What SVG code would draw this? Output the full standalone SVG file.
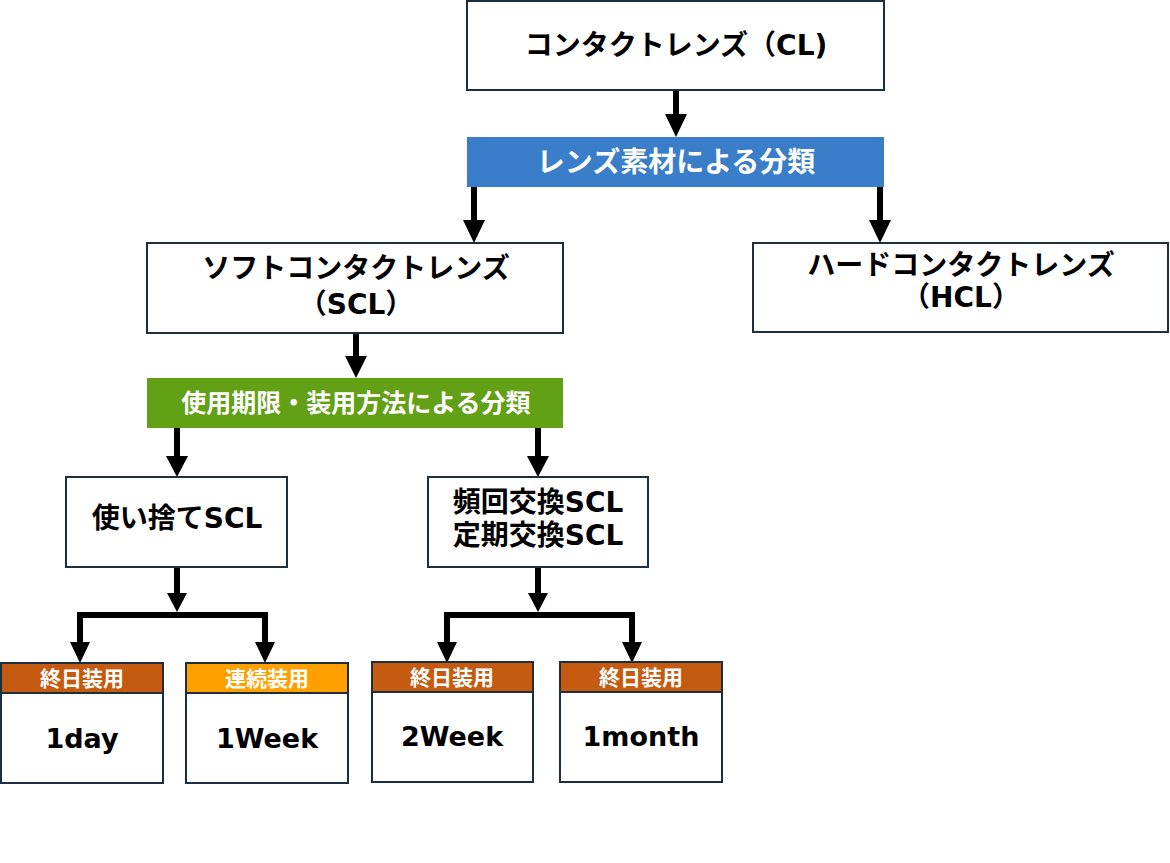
<svg xmlns="http://www.w3.org/2000/svg" width="1170" height="863" viewBox="0 0 1170 863">
<defs>
<style>
.box{fill:#fff;stroke:#1c2f3e;stroke-width:2}
.t{font-family:"DejaVu Sans","Noto Sans CJK JP",sans-serif;font-weight:bold;fill:#000;text-anchor:middle;dominant-baseline:central}
.w{fill:#fff}
.c{fill:none;stroke:#000;stroke-width:6}
.hd1{fill:#c55a11;stroke:#1c2f3e;stroke-width:2}
.hd2{fill:#ffa000;stroke:#1c2f3e;stroke-width:2}
</style>
</defs>
<rect width="1170" height="863" fill="#fff"/>
<g id="connectors">
<path class="c" d="M676,90 V116" />
<path d="M665,114 L687,114 L676,137 Z"/>
<path class="c" d="M474,187 V222"/>
<path d="M463,220 L485,220 L474,243 Z"/>
<path class="c" d="M880,187 V222"/>
<path d="M869,220 L891,220 L880,243 Z"/>
<path class="c" d="M356,333 V358"/>
<path d="M345,356 L367,356 L356,378 Z"/>
<path class="c" d="M177,428 V458"/>
<path d="M166,456 L188,456 L177,477 Z"/>
<path class="c" d="M538,428 V458"/>
<path d="M527,456 L549,456 L538,477 Z"/>
<path class="c" d="M177,567 V595"/>
<path d="M167,593 L187,593 L177,612 Z"/>
<path class="c" d="M80,643 V615 H265 V643"/>
<path d="M70,642 L90,642 L80,663 Z"/>
<path d="M255,642 L275,642 L265,663 Z"/>
<path class="c" d="M538,567 V595"/>
<path d="M528,593 L548,593 L538,612 Z"/>
<path class="c" d="M447,643 V615 H632 V643"/>
<path d="M437,642 L457,642 L447,663 Z"/>
<path d="M622,642 L642,642 L632,663 Z"/>
</g>
<g id="cl">
<rect class="box" x="467" y="1" width="417" height="89"/>
<text class="t" x="676" y="45" font-size="28">コンタクトレンズ（CL)</text>
</g>
<g id="material">
<rect x="467" y="137" width="417" height="50" fill="#3a7dc8"/>
<text class="t w" x="676" y="162" font-size="28">レンズ素材による分類</text>
</g>
<g id="scl">
<rect class="box" x="147" y="243" width="416" height="90"/>
<text class="t" x="356" y="268" font-size="28">ソフトコンタクトレンズ</text>
<text class="t" x="356" y="304" font-size="28">（SCL）</text>
</g>
<g id="hcl">
<rect class="box" x="753" y="243" width="415" height="89"/>
<text class="t" x="961" y="265" font-size="28">ハードコンタクトレンズ</text>
<text class="t" x="961" y="297" font-size="28">（HCL）</text>
</g>
<g id="usage">
<rect x="147" y="378" width="416" height="50" fill="#62a016"/>
<text class="t w" x="356" y="403" font-size="25">使用期限・装用方法による分類</text>
</g>
<g id="disposable">
<rect class="box" x="66" y="477" width="221" height="90"/>
<text class="t" x="177" y="518" font-size="28">使い捨てSCL</text>
</g>
<g id="frequent">
<rect class="box" x="428" y="477" width="220" height="90"/>
<text class="t" x="538" y="502" font-size="28">頻回交換SCL</text>
<text class="t" x="538" y="535" font-size="28">定期交換SCL</text>
</g>
<g id="day1">
<rect class="box" x="1" y="693" width="162" height="90"/>
<rect class="hd1" x="1" y="663" width="162" height="30"/>
<text class="t w" x="82" y="679" font-size="21">終日装用</text>
<text class="t" x="82" y="738" font-size="27">1day</text>
</g>
<g id="week1">
<rect class="box" x="186" y="693" width="162" height="90"/>
<rect class="hd2" x="186" y="663" width="162" height="30"/>
<text class="t w" x="267" y="679" font-size="21">連続装用</text>
<text class="t" x="267" y="738" font-size="27">1Week</text>
</g>
<g id="week2">
<rect class="box" x="372" y="692" width="161" height="90"/>
<rect class="hd1" x="372" y="662" width="161" height="30"/>
<text class="t w" x="452" y="678" font-size="21">終日装用</text>
<text class="t" x="452" y="736" font-size="27">2Week</text>
</g>
<g id="month1">
<rect class="box" x="560" y="692" width="162" height="90"/>
<rect class="hd1" x="560" y="662" width="162" height="30"/>
<text class="t w" x="641" y="678" font-size="21">終日装用</text>
<text class="t" x="641" y="736" font-size="27">1month</text>
</g>
</svg>
